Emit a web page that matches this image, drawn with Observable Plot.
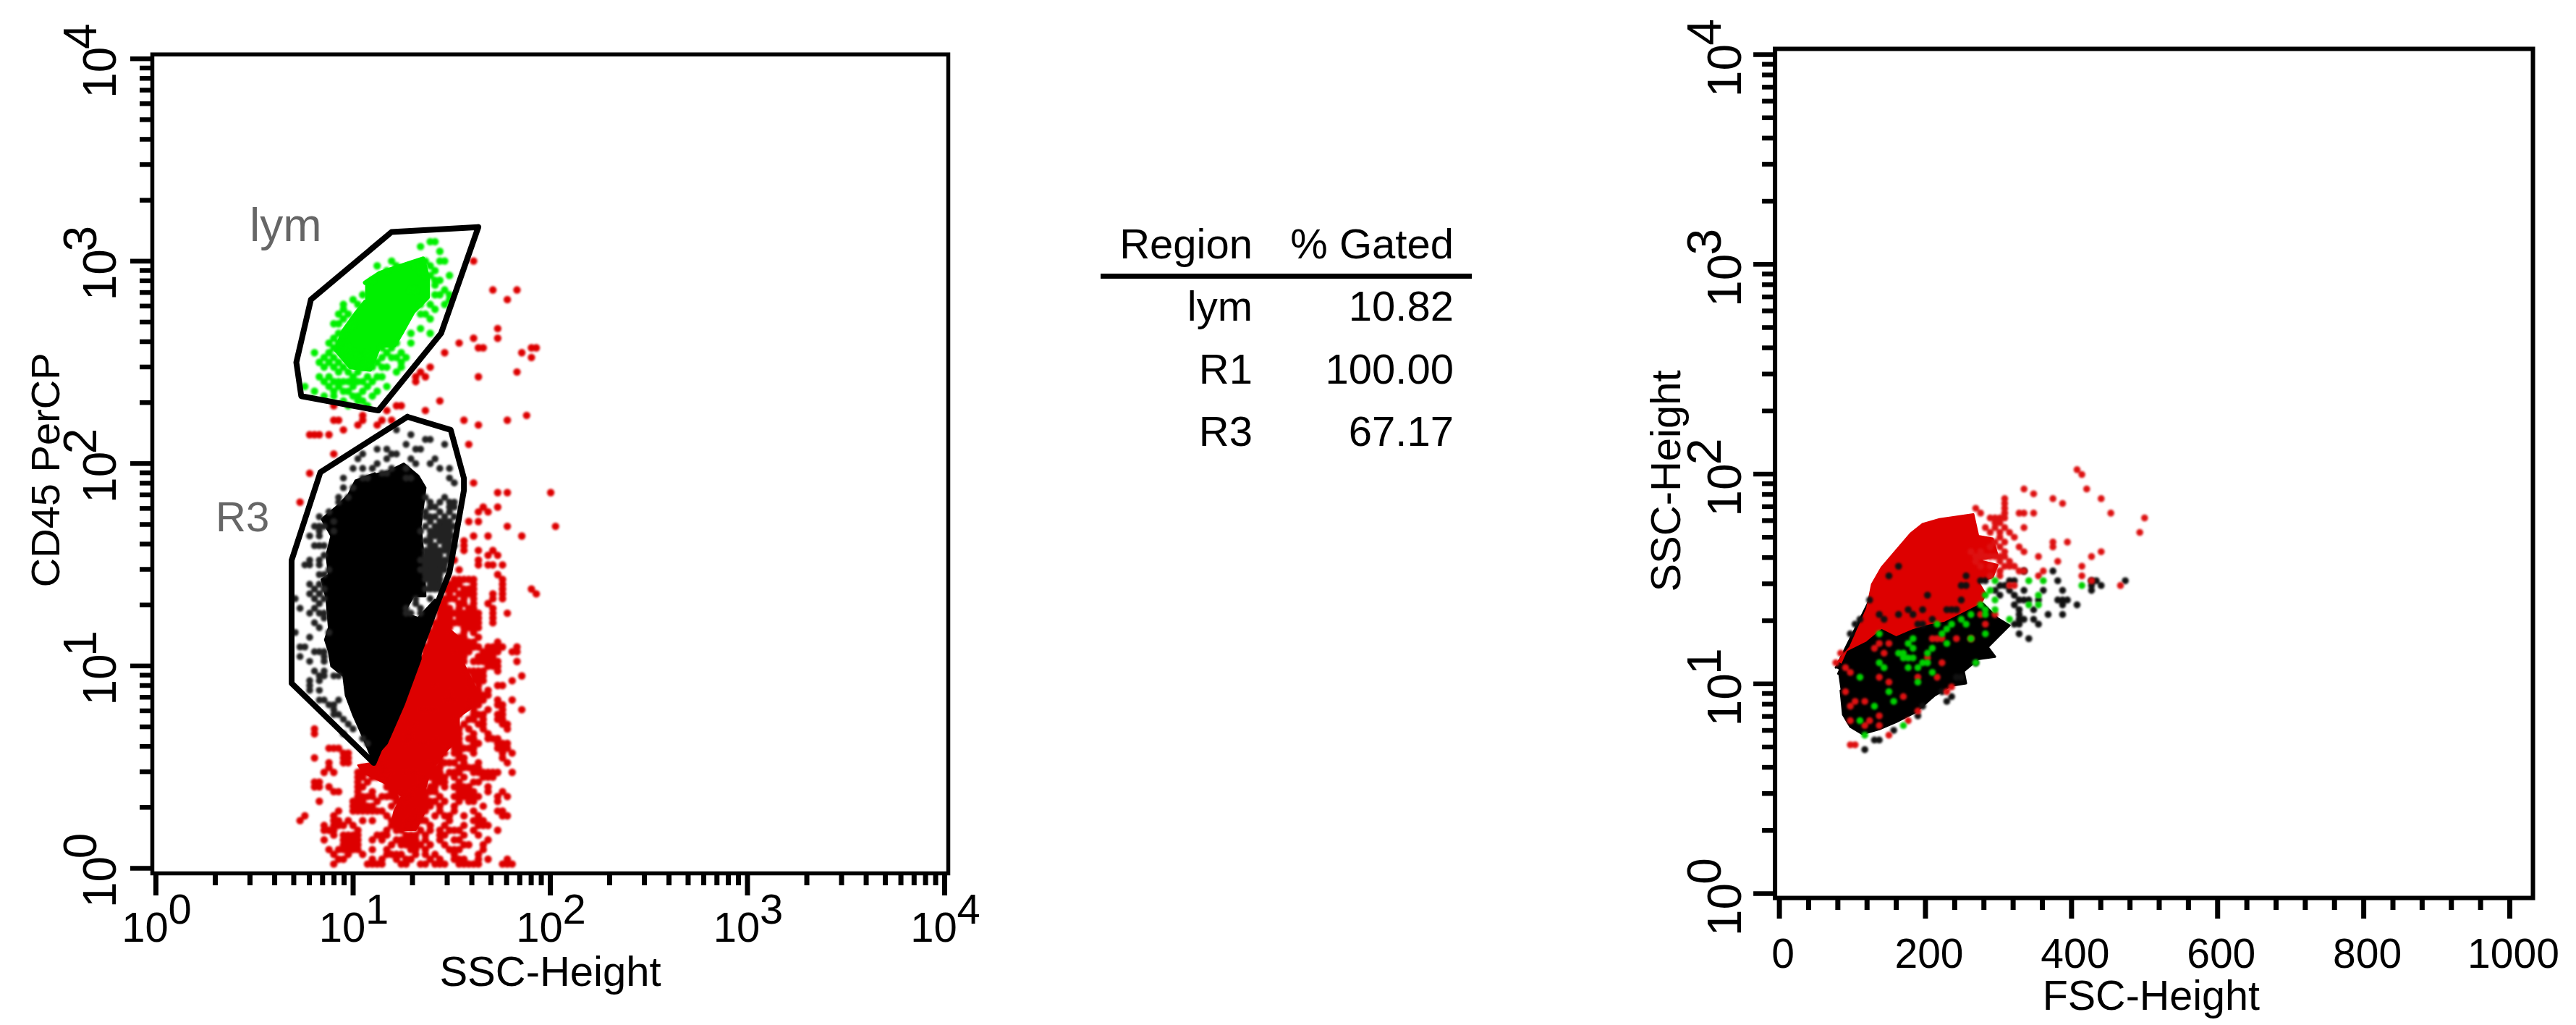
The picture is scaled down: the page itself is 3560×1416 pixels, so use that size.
<!DOCTYPE html>
<html><head><meta charset="utf-8">
<script src="https://cdn.jsdelivr.net/npm/d3@7"></script>
<script src="https://cdn.jsdelivr.net/npm/@observablehq/plot@0.6"></script>
<style>
html,body{margin:0;padding:0;background:#fff;}
#page{position:relative;width:3560px;height:1416px;overflow:hidden;font-family:"Liberation Sans",Arial,sans-serif;}
#left,#right{position:absolute;top:0;}
#left{left:0;}#right{left:2200px;}
#page svg{display:block;background:transparent;}
#page svg g[aria-label="dot"]{filter:blur(1.4px);}
table{position:absolute;left:1521px;top:294px;border-collapse:collapse;table-layout:fixed;font-size:58px;color:#000;}
td,th{font-weight:normal;text-align:right;padding:0;height:86.3px;line-height:86px;white-space:nowrap;}
#rule{position:absolute;left:1521px;top:378px;width:513px;height:7px;background:#000;}
</style></head><body>
<div id="page"><div id="left"></div><div id="right"></div>
<table id="tbl"><colgroup><col style="width:210px"><col style="width:278px"></colgroup><tbody></tbody></table><div id="rule"></div></div>
<script>
// ---- gated region table
const tableHeader = ["Region", "% Gated"];
const regionNames = ["lym", "R1", "R3"];
const regionPct = ["10.82", "100.00", "67.17"];

// ---- axis labels and ticks
const decades = [0, 1, 2, 3, 4];
const fscMajor = [0, 200, 400, 600, 800, 1000];
const fscMinor = [40,80,120,160,240,280,320,360,440,480,520,560,640,680,720,760,840,880,920,960];
const logFactors = [2,3,4,5,6,7,8,9];

// ---- display channels: left plot has 40.9 / 41.95 channels per decade, right plot 43.45 per decade
// gate outlines [log10 SSC, log10 CD45]
const lymGate = [[1.635,3.168],[1.195,3.144],[0.786,2.81],[0.712,2.5],[0.737,2.333],[1.128,2.262],[1.446,2.643],[1.635,3.168]];
const r3Gate = [[1.275,2.231],[1.495,2.166],[1.562,1.927],[1.562,1.868],[1.489,1.463],[1.427,1.308],[1.318,1.022],[1.104,0.521],[0.688,0.914],[0.688,1.522],[0.834,1.957],[1.275,2.231]];

// left plot, dense red region outline [col,row]
const redLeftCore = [[58,50.5],[62,47],[63,41.5],[65.5,36.5],[67,34],[62,30.5],[62,26],[59,23],[56,19],[55,15.5],[55,11],[53,7],[50.5,7],[48,8.5],[48.5,11],[50,14],[48,16],[42,19],[41,20.5],[44,21],[47,29]];
// left plot, red events: [channel row, channel columns / runs]
const redLeftRows = [
[125,"65"],[119,"69 74"],[117,"72"],[111,"70"],[109,"65 70"],[108,"62"],[107,"66 67 77 78"],[106,"59 75"],[105,"77"],[103,"56"],
[102,"54 74"],[101,"53 55 66"],[100,"53"],[96,"58"],[95,"36 49 50"],[94,"47 55"],[93,"42 76"],[92,"36 37 42 46 48 63 72"],[91,"41 45 66"],[90,"38"],
[89,"31 32 33 35"],[87,"64"],[85,"36"],[81,"31"],[79,"65"],[77,"70 72 81"],[75,"29"],[74,"67 70"],[73,"66 68"],[71,"64 66"],[70,"72 82"],
[68,"65 68 75"],[67,"63"],[66,"63"],[65,"63 66 69"],[64,"68 70"],[63,"61 66"],[62,"66 68 69 71"],[61,"62"],[60,"70"],
[59,"61-65 71"],[58,"60-62 65 71"],[57,"59-61 63-65 71 77"],[56,"60 62-64 65 69 71 78"],[55,"59-61 63 65 69 71"],[54,"58-59 62-63 65 68"],
[53,"58-60 62 64 65 69"],[52,"58-66 69 72"],[51,"58-60 62-66 69"],[50,"57-66 69"],[49,"57-60 63-66"],[48,"56-59 63 65"],[47,"56-63 66"],[46,"56-65 70"],
[45,"55-66 68-71 74"],[44,"55-60 62-64 67-70 73-74"],[43,"55-63 66-69"],[42,"55-63 65-70 74"],[41,"54-62 68-70"],[40,"54-62 64-67 70"],[39,"53-63 65-67 75"],
[38,"53-63 65-67 73"],[37,"52-56 58-63 66 70-71"],[36,"52-59 61-66 68"],[35,"51-59 61-68"],[34,"51-58 62-63 65-67 70 73"],[33,"51-63 65-66 70-71"],
[32,"50-53 58-62 65 68 71 75"],[31,"50-62 65-67 70-71"],[30,"49-50 52-60 64-65 67 70-71"],[29,"49-52 54-61 63 66-67 71-72"],[28,"32 48-51 53-62 64 67 72"],
[27,"32 48-50 53-62 65 68"],[26,"47-50 53-56 58-62 64-65 68-70"],[25,"47-50 52-53 56-62 65-66 70-72"],[24,"35-37 47-58 61-65 70-72"],[23,"38-39 46-59 61-62 65 71 73"],
[22,"32 38-39 46 48-58 62-63 71"],[21,"35 38-39 47-55 58-61 63 66 72"],[20,"35 42-44 48-58 62-66"],[19,"34 36 41-45 47 49-50 54-58 60-62 65-70 73"],
[18,"41-42 44-46 48-53 56-59 61 63 67-69"],[17,"32-33 41 43 47-53 57-59 62 65-66"],[16,"32-33 35 41 42 47-52 56 57 59 61-64 68"],[15,"36 37 41 44 48 49 51 53-57 62-65 68 71"],
[14,"41-44 46-49 53-55 58 61-66 70 72"],[13,"33 40-42 45 49-50 52-57 59 62 64-65 70"],[12,"40-44 48 51-56 58 61 67"],[11,"37 40-46 50-52 54-55 58 61 65 70-71"],
[10,"30 36 47 49-51 54 57 59-60 63 66 71-72"],[9,"29 36-37 39 42 44 48-50 54 55 60 65-67"],[8,"34 36-38 40 48-50 53 56 59 63 66-68"],[7,"34-36 41 47 49-50 54 56 58 60-62 65 70"],
[6,"36 38-41 45-47 51-53 55 58 59 63 66"],[5,"34 38-41 44 46 49-53 55 58 61-62 68"],[4,"38-41 48 50-54 56 59 63 64 67"],[3,"35 37-41 44 47 52-53 55 60-62 67"],
[2,"36 39 42 47-50 53 55 57 61 66"],[1,"37 38 44 46 49 51-52 56 58 61-63 66 68 72"],[0,"36 43-46 50-51 54 55 57-59 62-66 71-73"]];

// left plot, solid black core outline [col,row]
const blackLeftCore = [[47.5,81.5],[50.5,83],[53.5,80.5],[55,78],[54.5,74],[54,70],[54.5,65],[55,55.5],[52.5,55.5],[50.5,52],[53.5,51],[57,54.8],[55.5,50],[54,45],[54,42.5],[50.5,33],[47,25],[44,21.7],[42,26.5],[40,31],[38.5,35],[38,39],[35.5,41],[35,44],[34.2,46.5],[35,49],[34.5,55],[33.5,59],[35,60],[34.5,64],[35.5,68],[33.5,71.5],[36.5,74],[39,76.5],[40.5,79.5],[44.5,81]];
const blackLeftDots = [[49,90],[52,89],[55,88],[56,88],[51,87],[59,87],[53,86],[54,86],[45,86],[47,86],[42,85],[48,85],[49,85],[41,84],[57,84],[47,84],[52,84],[45,83],[53,83],[56,83],[58,82],[60,82],[40,82],[38,80],[51,80],[52,80],[46,81],[47,81],[60,80],[61,79],[42,80],[43,80],[37,76],[39,76],[55,76],[59,76],[60,75],[61,75],[56,75],[58,75],
[56,74],[57,74],[60,74],[61,74],[55,73],[58,73],[60,73],[55,72],[57,72],[59,72],[61,72],[56,71],[59,71],[60,71],[55,70],[58,70],[60,70],[54,69],[57,69],[59,69],[56,68],[58,68],[60,68],[55,67],[58,67],[60,67],[56,66],[59,66],[61,66],[55,65],[57,65],[59,65],[55,64],[57,64],[54,63],[56,63],[58,63],[60,63],[55,62],[57,62],[59,62],[54,61],[56,61],[58,61],[55,60],[57,60],[55,59],[57,59],[56,58],[58,58],[55,57],[57,57],[53,55],[56,55],[53,54],[51,53],[54,53],[51,52],[52,52],[54,52],
[56,72],[58,71],[57,70],[59,70],[61,70],[56,69],[58,69],[60,69],[57,68],[59,68],[61,68],[56,67],[59,67],[57,66],[60,66],[56,65],[58,65],[60,65],[56,64],[58,64],[60,64],[55,63],[57,63],[59,63],[56,62],[58,62],[55,61],[57,61],[59,61],[56,60],[58,60],[56,59],[58,59],[57,58],[56,57],[58,57],
[36,71],[36,69],[33,70],[32,70],[31,68],[33,68],[33,66],[34,64],[33,63],[31,63],[30,62],[31,62],[35,61],[33,60],[31,58],[32,57],[33,56],[34,55],[31,56],[28,55],[29,53],[32,53],[33,52],[31,52],[34,51],[32,50],[33,49],[35,48],[28,48],[31,47],[29,45],[30,45],[32,44],[33,44],[34,44],[29,43],[31,42],[34,43],[34,42],[34,40],[34,39],[36,39],[37,39],[31,38],[32,40],[31,36],[33,39],[33,38],[31,37],[33,36],[33,34],[34,34],[37,34],[36,33],[36,32],[35,33],[36,31],[37,31],[38,30],[39,29],[40,28],[38,27],[42,26],[43,25],
[34,52],[33,54],[34,57],[33,58],[32,55],[34,60],[33,62],[34,66],[33,69],[40,78],[38,78],[44,82],[48,82],[51,82],[42,82],[37,75],[35,73],[33,72],[34,70],[32,66]];

// left plot, green events
const greenLeftCore = [[42.5,120.5],[45.5,122.5],[51.5,124.5],[54.5,125.5],[55.5,121.5],[55.5,117.5],[52.5,114.5],[50,110],[48.5,107.5],[45.5,107.5],[43.5,102.5],[39.5,103],[36.5,106.5],[38,110.5],[40.5,114],[42.5,116.5]];
const greenLeftDots = [[56,129],[57,129],[54,128],[58,127],[45,124],[48,125],[58,125],[59,125],[60,122],[55,125],[57,123],[60,118],[60,117],[56,122],[57,118],[53,119],[40,117],[38,116],[38,115],[37,114],[36,112],[37,112],[38,110],[35,108],[36,107],[32,106],[35,106],[36,105],[38,106],[34,103],[33,101],[37,102],[39,102],[40,101],[38,100],[36,100],[35,99],[37,99],[30,99],[32,98],[34,97],[36,97],[39,98],[40,97],[43,99],[47,99],[44,97],[41,96],[42,96],[43,95],[39,95],[38,98],[45,101],[46,101],[49,102],[50,103],[47,106],[48,107],[43,106],[43,104],[54,111],[56,110],[52,110],[54,114],[55,114],[46,107],[46,105],[49,108],[50,104],[41,102],[44,103],[40,100],[42,100],[38,103],[58,121],[57,120],[59,119],
[37,108],[39,107],[40,106],[41,105],[37,104],[39,105],[40,104],[35,104],[36,103],[42,103],[45,104],[44,105],[47,103],[48,105],[46,103],[34,105],[33,104],[41,100],[39,100],[43,101],[44,100],[45,98],[42,98],[40,99],[38,96],[41,97],[36,98],[35,101],[34,100],[37,100],[39,111],[37,110],[36,109],[38,113],[39,114],[41,116],[42,118],[40,112],[52,108],[50,106],[49,105],[51,105],[54,116],[56,116],[57,115],[56,113],[52,119],[58,118],[59,116],[57,121],[55,122],[56,124],[54,123],[53,124],[49,124],[47,123],[44,121]];

// right plot, solid regions [col,row]
const blackRightFringe = [[5,46],[8,52],[10,56],[12,60],[13,62],[16,62],[16,50],[8,44]];
const redRightCore = [[5.5,47.25],[8,50.25],[11.5,58.25],[12.5,63.25],[14.5,66.75],[20.5,73.75],[23,75.75],[26.5,76.75],[33.5,77.75],[34.5,73.25],[37.5,72.75],[38.5,69.25],[34.5,68.25],[38.5,67.25],[37.5,64.75],[34.5,63.75],[36,61.25],[34,57],[28,53],[24,51],[20,50],[16,49],[12,49],[9.5,46],[9,45]];
const blackRightCore = [[5.5,44.75],[7.5,49.25],[11.5,51.25],[14.5,53.75],[17.5,52.25],[21,53.75],[24.5,54.75],[27.5,55.25],[31.5,57.25],[35.5,59.25],[38.5,56.25],[41,54.75],[39,52.75],[36.5,50.25],[38,48.25],[34.5,47.75],[31.5,45.25],[32,42.75],[29,42.25],[25.5,40.25],[21.5,36.75],[17.5,34.75],[14,33.25],[10.5,32.25],[8,33.75],[6.5,36.25],[6,41.25]];
const blackRightDots = [[50,66],[51,64],[52,62],[51,60],[52,60],[53,60],[52,59],[55,59],[49,57],[52,57],[46,58],[46,56],[47,55],[43,55],[43,53],[45,52],[43,57],[48,62],[47,60],[44,62],[45,60],[43,60],[43,58],[41,64],[42,64],[44,66],[58,63],[59,64],[60,63],[65,64],[58,62],[39,63],[36,64],[35,64],[32,65],[31,63],
[41,62],[40,63],[42,61],[44,60],[42,59],[43,56],[42,55],[44,56],[39,61],[38,62],[58,64],
[18,67],[16,65],[12,60],[24,61],[14,57],[15,56],[18,57],[20,58],[21,57],[23,58],[10,56],[9,55],[8,53],[22,55],[23,55],[25,56],[28,58],[29,58],[30,58],[31,60],[32,63],
[11,29],[13,31],[14,31],[17,33],[22,36],[23,38],[28,39],[29,40],[27,41],[31,44],[30,44],[34,47]];
const redRightDots = [[55,87],[56,86],[44,83],[46,82],[57,83],[50,81],[52,80],[60,81],[40,81],[40,80],[34,79],[62,78],[43,78],[44,78],[46,78],[40,78],[69,77],[68,74],[44,75],[36,75],[38,77],[39,76],[41,74],[42,73],[43,71],[44,70],[35,78],[40,79],[40,77],[39,73],[50,72],[50,71],[53,72],[47,69],[51,68],[60,70],[58,69],[56,67],[56,65],[48,66],[47,65],[40,70],[39,69],[34,69],[35,69],[36,69],[37,69],[40,67],[41,68],[42,67],[43,66],[44,66],[39,66],[64,63],[58,64],[41,63],[42,63],
[37,77],[38,76],[39,77],[40,78],[40,69],[39,68],[41,67],[34,68],[35,67],[37,67],[39,66],[37,65],[39,65],[36,69],[38,69],[35,70],[33,70],[37,71],[39,71],[38,72],[40,72],[37,74],[39,74],[38,75],[40,75],
[26,52],[25,52],[27,52],[30,52],[33,52],[36,55],[24,48],[27,47],[22,44],[26,44],[14,44],[16,43],[19,40],[7,41],[8,38],[9,39],[11,39],[12,35],[14,36],[11,34],[8,35],[14,34],[29,42],[28,41],[22,37],[20,35],[16,32],[9,30],[8,30],[6,49],[5,47],[7,46],[8,45],[35,57],[38,57],[15,49],[14,51],[13,50],[16,51]];
const greenRightDots = [[38,64],[45,64],[48,64],[56,63],[37,62],[36,61],[38,60],[47,61],[45,59],[47,59],[36,58],[36,57],[35,59],[33,57],[38,58],[41,56],[31,56],[29,55],[28,54],[27,53],[32,55],[26,55],[36,53],[33,52],[28,51],[25,50],[24,49],[21,52],[20,51],[21,50],[19,49],[18,49],[19,48],[20,48],[21,48],[23,47],[24,47],[20,46],[22,46],[25,45],[14,53],[14,47],[15,46],[10,44],[22,43],[16,41],[17,39],[13,38],[10,35],[11,32],[19,34],[34,47]];

// ---- conversions from display channels to data values
const leftX = k => 10 ** ((k + 0.89) / 40.9);
const leftY = m => 10 ** ((m + 0.88) / 41.95);
const rightX = k => (k + 6.7) * 6.605;
const rightY = m => 10 ** ((m + 0.82) / 43.45);
const sparseRows = rows => rows.flatMap(([m, s]) => s.split(" ").flatMap(t => {
  const [a, b] = t.split("-").map(Number);
  return d3.range(a, (b === undefined ? a : b) + 1).map(k => [k, m]);
}));
const logMinor = decades.slice(0, 4).flatMap(d => logFactors.map(f => f * 10 ** d));
const logMajor = decades.map(d => 10 ** d);

const FONT = '"Liberation Sans",Arial,sans-serif';
const NARROW = '"Liberation Sans Narrow","Liberation Sans",Arial,sans-serif';
const INK = "#000";
const MID = {textAnchor: "middle", lineAnchor: "middle", fill: INK};

function logYLabels(o) {
  return [
    Plot.text(decades, {...MID, y: d => 10 ** d, text: () => "10", frameAnchor: "left", rotate: -90, dx: o.baseDx, dy: o.baseDy, fontSize: o.size, fontFamily: NARROW}),
    Plot.text(decades, {...MID, y: d => 10 ** d, text: d => String(d), frameAnchor: "left", rotate: -90, dx: o.expDx, dy: o.expDy, fontSize: o.size, fontFamily: NARROW})
  ];
}

const leftPlot = Plot.plot({
  width: 1400, height: 1416,
  marginLeft: 215, marginRight: 95, marginTop: 80.7, marginBottom: 217,
  style: {background: "transparent", overflow: "visible"},
  x: {type: "log", domain: [1, 1e4], axis: null},
  y: {type: "log", domain: [1, 1e4], axis: null},
  marks: [
    Plot.line(redLeftCore, {x: d => leftX(d[0]), y: d => leftY(d[1]), fill: "#dd0000", stroke: "#dd0000", strokeWidth: 2}),
    Plot.dot(sparseRows(redLeftRows), {x: d => leftX(d[0]), y: d => leftY(d[1]), r: 5.2, fill: "#dd0000"}),
    Plot.line(blackLeftCore, {x: d => leftX(d[0]), y: d => leftY(d[1]), fill: "#000", stroke: "#000", strokeWidth: 3}),
    Plot.dot(blackLeftDots, {x: d => leftX(d[0]), y: d => leftY(d[1]), r: 4.8, fill: "#222"}),
    Plot.line(greenLeftCore, {x: d => leftX(d[0]), y: d => leftY(d[1]), fill: "#00f000", stroke: "#00f000", strokeWidth: 6}),
    Plot.dot(greenLeftDots, {x: d => leftX(d[0]), y: d => leftY(d[1]), r: 5.2, fill: "#00f000"}),
    Plot.line(lymGate, {x: d => 10 ** d[0], y: d => 10 ** d[1], stroke: "#000", strokeWidth: 8, strokeLinejoin: "round"}),
    Plot.line(r3Gate, {x: d => 10 ** d[0], y: d => 10 ** d[1], stroke: "#000", strokeWidth: 8, strokeLinejoin: "round"}),
    Plot.text(["lym"], {...MID, x: () => 10 ** 0.658, y: () => 10 ** 3.174, text: d => d, fontSize: 64, fontFamily: FONT, fill: "#666"}),
    Plot.text(["R3"], {...MID, x: () => 10 ** 0.439, y: () => 10 ** 1.731, text: d => d, fontSize: 58, fontFamily: FONT, fill: "#666"}),
    Plot.frame({stroke: "#000", strokeWidth: 5.5, insetLeft: -5, insetRight: -5, insetTop: -6, insetBottom: -7}),
    Plot.axisX({ticks: logMajor, tickSize: 31, text: null, label: null, dy: 7, strokeWidth: 7, stroke: "#000"}),
    Plot.axisX({ticks: logMinor, tickSize: 17, text: null, label: null, dy: 7, strokeWidth: 7, stroke: "#000"}),
    Plot.axisY({ticks: logMajor, tickSize: 30, text: null, label: null, dx: -5, strokeWidth: 6.5, stroke: "#000"}),
    Plot.axisY({ticks: logMinor, tickSize: 17, text: null, label: null, dx: -5, strokeWidth: 6.5, stroke: "#000"}),
    Plot.text(decades, {...MID, x: d => 10 ** d, text: () => "10", frameAnchor: "bottom", dx: -15, dy: 83, fontSize: 58, fontFamily: FONT}),
    Plot.text(decades, {...MID, x: d => 10 ** d, text: d => String(d), frameAnchor: "bottom", dx: 33, dy: 58, fontSize: 58, fontFamily: FONT}),
    ...logYLabels({baseDx: -76, baseDy: 19, expDx: -103, expDy: -31, size: 64}),
    Plot.text(["SSC-Height"], {...MID, text: d => d, frameAnchor: "bottom", dy: 144, fontSize: 58, fontFamily: FONT}),
    Plot.text(["CD45 PerCP"], {...MID, text: d => d, frameAnchor: "left", rotate: -90, dx: -151, dy: 9, fontSize: 56, fontFamily: FONT})
  ]
});
document.getElementById("left").append(leftPlot);

const rightPlot = Plot.plot({
  width: 1360, height: 1416,
  marginLeft: 258.6, marginRight: 92, marginTop: 75, marginBottom: 182,
  style: {background: "transparent", overflow: "visible"},
  x: {type: "linear", domain: [0, 1000], axis: null},
  y: {type: "log", domain: [1, 1e4], axis: null},
  marks: [
    Plot.line(blackRightFringe, {x: d => rightX(d[0]), y: d => rightY(d[1]), fill: "#000", stroke: "#000", strokeWidth: 3}),
    Plot.line(redRightCore, {x: d => rightX(d[0]), y: d => rightY(d[1]), fill: "#dd0000", stroke: "#dd0000", strokeWidth: 3}),
    Plot.line(blackRightCore, {x: d => rightX(d[0]), y: d => rightY(d[1]), fill: "#000", stroke: "#000", strokeWidth: 3}),
    Plot.dot(blackRightDots, {x: d => rightX(d[0]), y: d => rightY(d[1]), r: 4.8, fill: "#111"}),
    Plot.dot(redRightDots, {x: d => rightX(d[0]), y: d => rightY(d[1]), r: 4.8, fill: "#dd1111"}),
    Plot.dot(greenRightDots, {x: d => rightX(d[0]), y: d => rightY(d[1]), r: 4.8, fill: "#00d000"}),
    Plot.frame({stroke: "#000", strokeWidth: 6, insetLeft: -6, insetRight: -32, insetTop: -8, insetBottom: -6}),
    Plot.axisX({ticks: fscMajor, tickSize: 29, text: null, label: null, dy: 6, strokeWidth: 7, stroke: "#000"}),
    Plot.axisX({ticks: fscMinor, tickSize: 17, text: null, label: null, dy: 6, strokeWidth: 7, stroke: "#000"}),
    Plot.axisY({ticks: logMajor, tickSize: 29.5, text: null, label: null, dx: -6, strokeWidth: 6.5, stroke: "#000"}),
    Plot.axisY({ticks: logMinor, tickSize: 17.5, text: null, label: null, dx: -6, strokeWidth: 6.5, stroke: "#000"}),
    Plot.text(fscMajor, {...MID, x: d => d, text: d => String(d), frameAnchor: "bottom", dx: 5, dy: 84, fontSize: 57, fontFamily: FONT}),
    ...logYLabels({baseDx: -74.6, baseDy: 22, expDx: -102.6, expDy: -31, size: 66}),
    Plot.text(["FSC-Height"], {...MID, text: d => d, frameAnchor: "bottom", dx: 9, dy: 142, fontSize: 57.5, fontFamily: FONT}),
    Plot.text(["SSC-Height"], {...MID, text: d => d, frameAnchor: "left", rotate: -90, dx: -155.6, dy: 9.5, fontSize: 58, fontFamily: FONT})
  ]
});
document.getElementById("right").append(rightPlot);

const tb = document.querySelector("#tbl tbody");
const rows = [tableHeader, ...regionNames.map((r, i) => [r, regionPct[i]])];
rows.forEach(r => {
  const tr = document.createElement("tr");
  r.forEach(c => { const td = document.createElement("td"); td.textContent = c; tr.append(td); });
  tb.append(tr);
});
</script></body></html>
